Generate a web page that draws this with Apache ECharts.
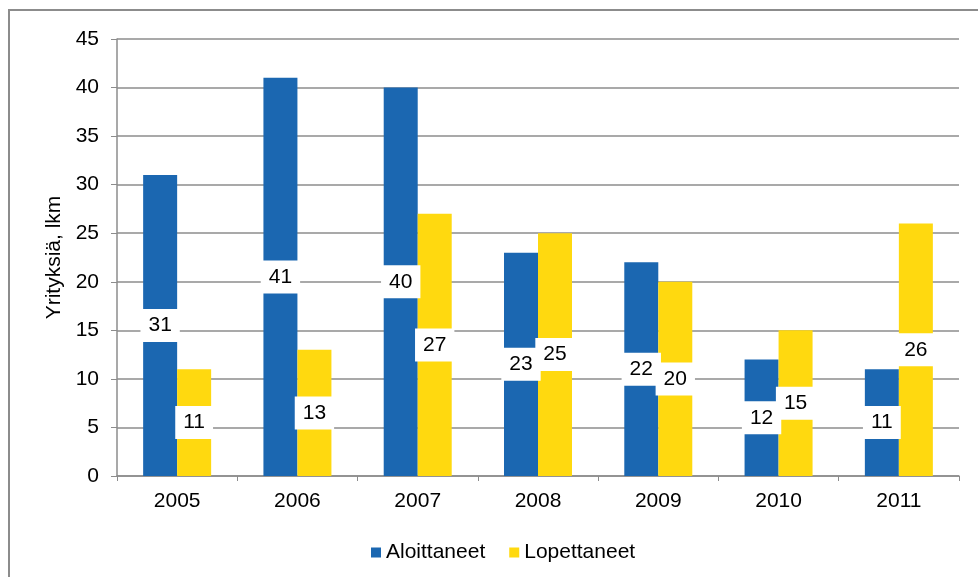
<!DOCTYPE html>
<html>
<head>
<meta charset="utf-8">
<script src="https://cdn.jsdelivr.net/npm/echarts@6/dist/echarts.min.js"></script>
<style>
  html, body { margin: 0; padding: 0; background: #fff; }
  #chart { width: 978px; height: 577px; }
</style>
</head>
<body>
<div id="chart"></div>
<script>
const years = ['2005', '2006', '2007', '2008', '2009', '2010', '2011']
const aloittaneet = [31, 41, 40, 23, 22, 12, 11]
const lopettaneet = [11, 13, 27, 25, 20, 15, 26]
const yTicks = [0, 5, 10, 15, 20, 25, 30, 35, 40, 45]

const chart = echarts.init(document.getElementById('chart'))

// valkoinen laatikko arvon ympärillä
const label = {
    show: true,
    position: 'inside',
    color: '#000',
    fontFamily: 'Liberation Sans',
    fontSize: 21,
    backgroundColor: '#fff',
    padding: [6, 8, 6, 8]
}

const option = {
    animation: false,
    textStyle: { fontFamily: 'Liberation Sans' },
    graphic: [{
        type: 'rect',
        shape: { x: 9, y: 10, width: 1000, height: 600 },
        style: { fill: 'none', stroke: '#8c8c8c', lineWidth: 2 }
    }],
    grid: { left: 117, right: 19, top: 39, bottom: 101 },
    legend: {
        top: 537,
        left: 366,
        itemWidth: 10,
        itemHeight: 10,
        itemGap: 24,
        icon: 'rect',
        textStyle: { fontSize: 21, color: '#000' },
        data: ['Aloittaneet', 'Lopettaneet']
    },
    xAxis: {
        type: 'category',
        data: years,
        axisLine: { lineStyle: { color: '#8c8c8c', width: 1.5 } },
        axisTick: { show: true, length: 5, lineStyle: { color: '#8c8c8c' } },
        axisLabel: { fontSize: 21, color: '#000', margin: 15 }
    },
    yAxis: {
        type: 'value',
        min: yTicks[0],
        max: yTicks[yTicks.length - 1],
        interval: 5,
        name: 'Yrityksiä, lkm',
        nameLocation: 'middle',
        nameGap: 52,
        nameTextStyle: { fontSize: 21, color: '#000' },
        axisLine: { show: true, lineStyle: { color: '#8c8c8c', width: 1.5 } },
        axisTick: { show: true, length: 6, lineStyle: { color: '#8c8c8c' } },
        axisLabel: { fontSize: 21, color: '#000', margin: 18 },
        splitLine: { lineStyle: { color: '#8c8c8c', width: 1.5 } }
    },
    series: [
        {
            name: 'Aloittaneet',
            type: 'bar',
            data: aloittaneet,
            barWidth: 34,
            barGap: '0%',
            itemStyle: { color: '#1b67b1' },
            label: label
        },
        {
            name: 'Lopettaneet',
            type: 'bar',
            data: lopettaneet,
            barWidth: 34,
            barGap: '0%',
            itemStyle: { color: '#ffd90f' },
            label: label
        }
    ]
}
chart.setOption(option)
</script>
</body>
</html>
